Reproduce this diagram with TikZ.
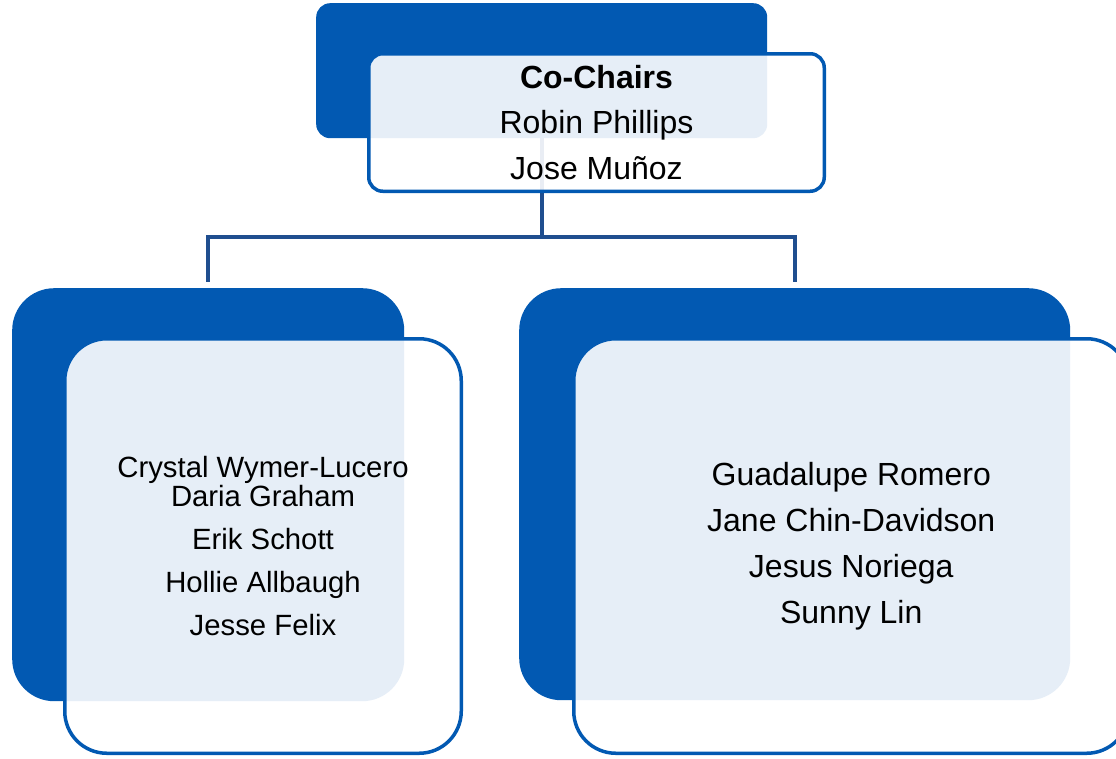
\documentclass[tikz,border=0pt]{standalone}
\usepackage{fontspec}
\setmainfont{Liberation Sans}
\usetikzlibrary{positioning}
\definecolor{boxblue}{HTML}{0259B2}
\definecolor{linkblue}{HTML}{1F4E8F}
\tikzset{
    darkbox/.style = {rectangle, fill=boxblue, draw=none, inner sep=0pt, anchor=north west},
    lightbox/.style = {rectangle, draw=boxblue, line width=3.5pt, fill=white, fill opacity=0.9, text opacity=1, align=center, inner sep=0pt, text=black},
    link/.style = {draw=linkblue, line width=4pt}
}

\begin{document}
\begin{tikzpicture}[x=1pt, y=-1pt]
    \useasboundingbox (0,0) rectangle (1116,758);

    % dark back panels
    \node [darkbox, rounded corners=14pt, minimum width=451pt, minimum height=135pt] (topdark) at (316,3) {};
    \node [darkbox, rounded corners=42pt, minimum width=392pt, minimum height=413pt] (leftdark) at (12,288) {};
    \node [darkbox, rounded corners=42pt, minimum width=551pt, minimum height=412pt] (rightdark) at (519,288) {};

    % connectors
    \draw [link] (topdark.south) -- ++(0,99) coordinate (bus);
    \draw [link, shorten >=6pt] (bus) -| (leftdark.north);
    \draw [link, shorten >=6pt] (bus) -| (rightdark.north);

    % front panels with names
    \node [lightbox, rounded corners=14pt, minimum width=455.5pt, minimum height=137.5pt,
           font=\fontsize{32}{45.5}\selectfont, below right=49pt and 51pt of topdark.north west] (chairs)
        {\textbf{Co-Chairs}\\Robin Phillips\\Jose Muñoz};
    \node [lightbox, rounded corners=42pt, minimum width=396.5pt, minimum height=414.5pt,
           font=\fontsize{29.3}{43}\selectfont, below right=49pt and 51pt of leftdark.north west] (leftteam)
        {Crystal Wymer-Lucero\\[-14pt]Daria Graham\\Erik Schott\\Hollie Allbaugh\\Jesse Felix};
    \node [lightbox, rounded corners=42pt, minimum width=555pt, minimum height=414.5pt,
           font=\fontsize{32}{46}\selectfont, below right=49pt and 53pt of rightdark.north west] (rightteam)
        {Guadalupe Romero\\Jane Chin-Davidson\\Jesus Noriega\\Sunny Lin};
\end{tikzpicture}
\end{document}
